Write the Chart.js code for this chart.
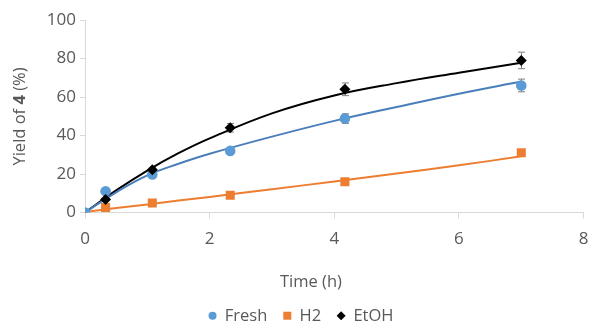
<!DOCTYPE html>
<html>
<head>
<meta charset="utf-8">
<script src="https://cdn.jsdelivr.net/npm/chart.js@4"></script>
<style>
  html, body { margin: 0; padding: 0; background: #fff; }
  #wrap { width: 590px; height: 324px; }
</style>
</head>
<body>
<div id="wrap"><canvas id="yieldChart" width="590" height="324"></canvas></div>
<script>
// Measured points (time in h, yield of 4 in %)
const timeH = [0, 0.33, 1.08, 2.33, 4.17, 7];
const freshYield = [0, 11, 19.8, 32, 48.8, 66];
const h2Yield = [null, 2.6, 4.9, 9, 16, 31];
const etohYield = [null, 6.8, 22.2, 44, 64, 79];

// Error bars (+/-)
const freshErr = [0, 0, 1, 1, 2.5, 3.3];
const etohErr = [0, 0, 1, 2.2, 3.3, 4.3];

// Trend curves
const fitTime = [0, 0.5, 1, 1.5, 2, 3, 4, 5, 6, 7];
const freshFit = [0, 10.5, 19.3, 25.3, 30.5, 39.4, 47.6, 54.8, 61.7, 68];
const h2Fit = [0.3, 2.3, 4.2, 6.2, 8.1, 12.1, 16.1, 20.2, 24.5, 29.2];
const etohFit = [0, 11.5, 21.8, 30.8, 38.5, 51.5, 60.8, 67.2, 72.6, 77.8];

const xTicks = [0, 2, 4, 6, 8];
const yTicks = [0, 20, 40, 60, 80, 100];

const FONT = "'Open Sans', sans-serif";
const TEXT = '#595959';
const AXIS = '#d9d9d9';
const BLUE = '#5b9bd5';
const ORANGE = '#ed7d31';

const pts = (xs, ys) => xs.map((x, i) => ({ x: x, y: ys[i] })).filter(p => p.y !== null);

// error bars, titles and legend drawn on the canvas
const extras = {
    id: 'extras',
    beforeDatasetsDraw(chart) {
        const { ctx, scales: { x, y } } = chart;
        const bars = [[freshYield, freshErr], [etohYield, etohErr]];
        ctx.save();
        ctx.strokeStyle = '#808080';
        ctx.lineWidth = 1;
        bars.forEach(([vals, errs]) => {
            vals.forEach((v, i) => {
                if (v === null || !errs[i]) return;
                const px = Math.round(x.getPixelForValue(timeH[i])) + 0.5;
                const top = y.getPixelForValue(v + errs[i]);
                const bot = y.getPixelForValue(v - errs[i]);
                ctx.beginPath();
                ctx.moveTo(px, top); ctx.lineTo(px, bot);
                ctx.moveTo(px - 3.5, top); ctx.lineTo(px + 3.5, top);
                ctx.moveTo(px - 3.5, bot); ctx.lineTo(px + 3.5, bot);
                ctx.stroke();
            });
        });
        ctx.restore();
    },
    afterDraw(chart) {
        const ctx = chart.ctx;
        ctx.save();
        ctx.fillStyle = TEXT;

        // y title with bold "4"
        const parts = [['Yield of ', ''], ['4', 'bold '], [' (%)', '']];
        let total = 0;
        parts.forEach(p => { ctx.font = p[1] + '16.5px ' + FONT; total += ctx.measureText(p[0]).width; });
        ctx.translate(20.5, 116.5);
        ctx.rotate(-Math.PI / 2);
        ctx.textBaseline = 'middle';
        let tx = -total / 2;
        parts.forEach(p => {
            ctx.font = p[1] + '16.5px ' + FONT;
            ctx.fillText(p[0], tx, 0);
            tx += ctx.measureText(p[0]).width;
        });
        ctx.setTransform(1, 0, 0, 1, 0, 0);

        // x title
        ctx.font = '16.5px ' + FONT;
        ctx.textBaseline = 'alphabetic';
        ctx.textAlign = 'center';
        ctx.fillText('Time (h)', 311, 286.5);

        // legend
        ctx.textAlign = 'left';
        const items = [
            { text: 'Fresh', color: BLUE, shape: 'circle' },
            { text: 'H2', color: ORANGE, shape: 'square' },
            { text: 'EtOH', color: '#000', shape: 'diamond' }
        ];
        const box = 8, gap = 8.25, pad = 16;
        let width = -pad;
        items.forEach(it => { it.w = box + gap + ctx.measureText(it.text).width; width += it.w + pad; });
        let lx = 301 - width / 2;
        const cy = 315.7;
        items.forEach(it => {
            const cx = lx + box / 2;
            ctx.fillStyle = it.color;
            ctx.beginPath();
            if (it.shape === 'circle') ctx.arc(cx, cy, 4, 0, Math.PI * 2);
            else if (it.shape === 'square') ctx.rect(cx - 4, cy - 4, 8, 8);
            else { ctx.moveTo(cx, cy - 4.5); ctx.lineTo(cx + 4.5, cy); ctx.lineTo(cx, cy + 4.5); ctx.lineTo(cx - 4.5, cy); ctx.closePath(); }
            ctx.fill();
            ctx.fillStyle = TEXT;
            ctx.fillText(it.text, lx + box + gap, 321);
            lx += it.w + pad;
        });
        ctx.restore();
    }
};

new Chart(document.getElementById('yieldChart'), {
    type: 'scatter',
    data: {
        datasets: [
            { label: 'Fresh fit', data: pts(fitTime, freshFit), showLine: true, borderColor: '#4a7ebb', borderWidth: 2, pointRadius: 0, tension: 0.4, order: 3 },
            { label: 'H2 fit', data: pts(fitTime, h2Fit), showLine: true, borderColor: ORANGE, borderWidth: 2, pointRadius: 0, tension: 0.4, order: 3 },
            { label: 'EtOH fit', data: pts(fitTime, etohFit), showLine: true, borderColor: '#000', borderWidth: 2, pointRadius: 0, tension: 0.4, order: 3 },
            { label: 'Fresh', data: pts(timeH, freshYield), pointStyle: 'circle', pointRadius: 5.3, backgroundColor: BLUE, borderColor: BLUE, borderWidth: 0, order: 2 },
            { label: 'H2', data: pts(timeH, h2Yield), pointStyle: 'rect', pointRadius: 6.4, backgroundColor: ORANGE, borderColor: ORANGE, borderWidth: 0, order: 1 },
            { label: 'EtOH', data: pts(timeH, etohYield), pointStyle: 'rectRot', pointRadius: 5.5, backgroundColor: '#000', borderColor: '#000', borderWidth: 0, order: 0 }
        ]
    },
    plugins: [extras],
    options: {
        responsive: false,
        animation: false,
        events: [],
        layout: { padding: { top: 20, right: 6, left: 0, bottom: 0 } },
        plugins: { legend: { display: false }, tooltip: { enabled: false } },
        scales: {
            x: {
                type: 'linear', min: 0, max: 8,
                afterBuildTicks: s => { s.ticks = xTicks.map(v => ({ value: v })); },
                afterFit: s => { s.height = 111.5; s.paddingLeft = 0; s.paddingRight = 0; },
                ticks: { color: TEXT, font: { family: FONT, size: 17 }, padding: 10 },
                grid: { drawOnChartArea: false, drawTicks: true, tickLength: 6, color: AXIS },
                border: { color: AXIS }
            },
            y: {
                min: 0, max: 100,
                afterBuildTicks: s => { s.ticks = yTicks.map(v => ({ value: v })); },
                afterFit: s => { s.width = 85; s.paddingTop = 0; s.paddingBottom = 0; },
                ticks: { color: TEXT, font: { family: FONT, size: 17 }, padding: 4 },
                grid: { drawOnChartArea: false, drawTicks: true, tickLength: 5, color: AXIS },
                border: { color: AXIS }
            }
        }
    }
});
</script>
</body>
</html>
